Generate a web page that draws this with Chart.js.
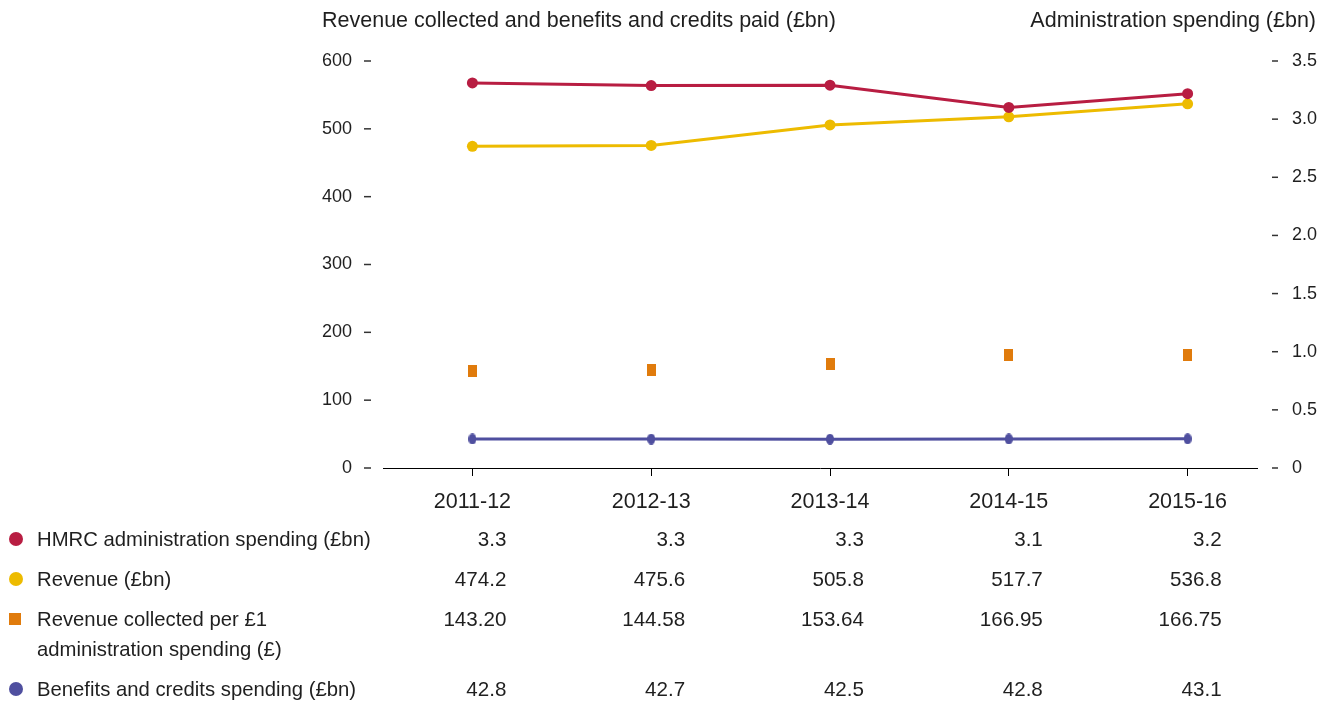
<!DOCTYPE html>
<html><head><meta charset="utf-8">
<script src="https://cdn.jsdelivr.net/npm/chart.js@4"></script>
<style>html,body{margin:0;padding:0;background:#fff}#wrap{width:1330px;height:702px}</style>
</head><body><div id="wrap"><canvas id="c" width="1330" height="702"></canvas></div>
<script>
const categories = ['2011-12', '2012-13', '2013-14', '2014-15', '2015-16'];
const adminSpending = [3.311, 3.289, 3.292, 3.101, 3.219];
const revenue = [474.2, 475.6, 505.8, 517.7, 536.8];
const revenuePerPound = [143.20, 144.58, 153.64, 166.95, 166.75];
const benefits = [42.8, 42.7, 42.5, 42.8, 43.1];
const leftTitle = 'Revenue collected and benefits and credits paid (£bn)';
const rightTitle = 'Administration spending (£bn)';
const seriesLabels = [
  ['HMRC administration spending (£bn)'],
  ['Revenue (£bn)'],
  ['Revenue collected per £1', 'administration spending (£)'],
  ['Benefits and credits spending (£bn)']
];

const RED = '#B81D42', YELLOW = '#EDBB00', ORANGE = '#E07B0C', BLUE = '#4F4F9F', TXT = '#1f1f1f';
const FONT = "'Liberation Sans', Arial, sans-serif";

function rectCanvas(w, h, color) {
  const c = document.createElement('canvas'); c.width = w; c.height = h;
  const g = c.getContext('2d'); g.fillStyle = color; g.fillRect(0, 0, w, h); return c;
}
function ellipseCanvas(w, h, color) {
  const c = document.createElement('canvas'); c.width = w; c.height = h;
  const g = c.getContext('2d'); g.fillStyle = color; g.beginPath();
  g.ellipse(w / 2, h / 2, w / 2, h / 2, 0, 0, Math.PI * 2); g.fill(); return c;
}

const overlay = {
  id: 'overlay',
  afterDraw(chart) {
    const ctx = chart.ctx, ca = chart.chartArea;
    const xs = chart.scales.x, yl = chart.scales.y, yr = chart.scales.y1;
    ctx.save();
    // x axis line
    ctx.strokeStyle = '#000'; ctx.lineWidth = 1;
    ctx.beginPath(); ctx.moveTo(ca.left, Math.round(ca.bottom) + 0.5);
    ctx.lineTo(ca.right - 19, Math.round(ca.bottom) + 0.5); ctx.stroke();
    // y tick dashes
    ctx.strokeStyle = '#333'; ctx.lineWidth = 1.5;
    yl.ticks.forEach(t => {
      const y = yl.getPixelForValue(t.value);
      ctx.beginPath(); ctx.moveTo(yl.right - 19, y); ctx.lineTo(yl.right - 12, y); ctx.stroke();
    });
    yr.ticks.forEach(t => {
      const y = yr.getPixelForValue(t.value);
      ctx.beginPath(); ctx.moveTo(yr.left - 5, y); ctx.lineTo(yr.left + 1, y); ctx.stroke();
    });
    // axis titles
    ctx.fillStyle = TXT; ctx.font = '21.5px ' + FONT; ctx.textBaseline = 'middle';
    ctx.textAlign = 'left'; ctx.fillText(leftTitle, 322, 21);
    ctx.textAlign = 'right'; ctx.fillText(rightTitle, 1316, 21);
    // legend + table
    const rowsY = [540, 580, 620, 690];
    const values = [
      adminSpending.map(v => v.toFixed(1)),
      revenue.map(v => v.toFixed(1)),
      revenuePerPound.map(v => v.toFixed(2)),
      benefits.map(v => v.toFixed(1))
    ];
    const colors = [RED, YELLOW, ORANGE, BLUE];
    rowsY.forEach((ry, i) => {
      ctx.fillStyle = colors[i];
      if (i === 2) { ctx.fillRect(9, ry - 7, 12, 12); }
      else { ctx.beginPath(); ctx.arc(16, ry - 1, 7, 0, Math.PI * 2); ctx.fill(); }
      ctx.fillStyle = TXT; ctx.textAlign = 'left'; ctx.font = '20.3px ' + FONT;
      seriesLabels[i].forEach((ln, k) => ctx.fillText(ln, 37, ry + k * 30));
      ctx.textAlign = 'right'; ctx.font = '20.6px ' + FONT;
      values[i].forEach((v, j) => ctx.fillText(v, xs.getPixelForValue(j) + 34, ry));
    });
    ctx.restore();
  }
};

new Chart(document.getElementById('c'), {
  type: 'line',
  data: {
    labels: categories,
    datasets: [
      { label: seriesLabels[0].join(' '), data: adminSpending, yAxisID: 'y1', borderColor: RED, backgroundColor: RED,
        borderWidth: 3, pointRadius: 5.5, pointBorderWidth: 0, pointBackgroundColor: RED, tension: 0 },
      { label: seriesLabels[1].join(' '), data: revenue, yAxisID: 'y', borderColor: YELLOW, backgroundColor: YELLOW,
        borderWidth: 3, pointRadius: 5.5, pointBorderWidth: 0, pointBackgroundColor: YELLOW, tension: 0 },
      { label: seriesLabels[2].join(' '), data: revenuePerPound, yAxisID: 'y', showLine: false,
        pointStyle: rectCanvas(9, 12, ORANGE), pointRadius: 6, borderColor: ORANGE, backgroundColor: ORANGE },
      { label: seriesLabels[3].join(' '), data: benefits, yAxisID: 'y', borderColor: BLUE, backgroundColor: BLUE,
        borderWidth: 3, pointStyle: ellipseCanvas(8, 11, BLUE), pointRadius: 5.5, tension: 0 }
    ]
  },
  options: {
    responsive: false, animation: false, devicePixelRatio: 1,
    layout: { padding: { top: 61, left: 0, right: 0, bottom: 0 } },
    plugins: { legend: { display: false }, tooltip: { enabled: false } },
    scales: {
      x: {
        type: 'category', offset: true,
        grid: { display: true, drawOnChartArea: false, drawTicks: true, tickLength: 8, color: '#000', lineWidth: 1, offset: false },
        border: { display: false },
        ticks: { color: TXT, font: { family: FONT, size: 21.5 }, padding: 13, maxRotation: 0 },
        afterFit(s) { s.height = 234; }
      },
      y: {
        position: 'left', min: 0, max: 600,
        grid: { display: false, drawTicks: false }, border: { display: false },
        ticks: { stepSize: 100, color: TXT, font: { family: FONT, size: 18 }, padding: 31 },
        afterFit(s) { s.width = 383; }
      },
      y1: {
        position: 'right', min: 0, max: 3.5,
        grid: { display: false, drawTicks: false }, border: { display: false },
        ticks: { stepSize: 0.5, color: TXT, font: { family: FONT, size: 18 }, padding: 15,
          callback: v => v === 0 ? '0' : v.toFixed(1) },
        afterFit(s) { s.width = 53; }
      }
    }
  },
  plugins: [overlay]
});
</script></body></html>
